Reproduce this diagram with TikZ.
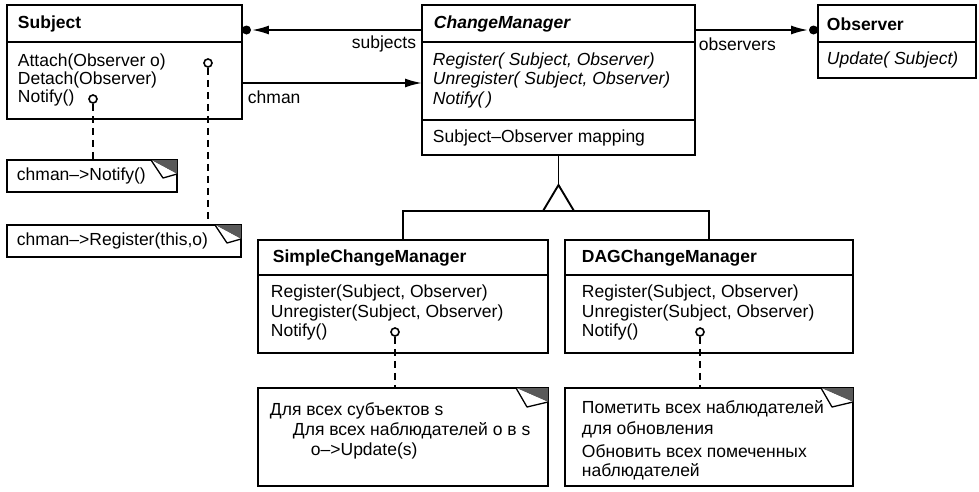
\documentclass[tikz,border=0pt]{standalone}
\usepackage{fontspec}
\setmainfont{Liberation Sans}
\usetikzlibrary{arrows.meta}
\newcommand\basefont{\fontsize{17.5}{20.5}\selectfont}
\newcommand\mydogear[5]{%
  \fill[black!65] ([xshift=-#2pt]#1.north east) -- (#1.north east) -- ([yshift=-#3pt]#1.north east) -- cycle;
  \draw[fill=white, line width=1.3pt, line join=round] ([xshift=-#2pt]#1.north east) -- ([xshift=-#4pt,yshift=-#5pt]#1.north east) -- ([yshift=-#3pt]#1.north east);
}
\begin{document}
\begin{tikzpicture}[x=1pt,y=-1pt,line width=1.9pt,
  box/.style={draw, rectangle, inner sep=0pt, outer sep=0pt, anchor=north west},
  txt/.style={anchor=west, inner sep=0pt, font=\basefont},
  hdr/.style={txt, font=\basefont\bfseries},
  ihdr/.style={txt, font=\basefont\bfseries\itshape},
  itxt/.style={txt, font=\basefont\itshape},
  opcirc/.style={circle, draw, fill=white, line width=1.6pt, inner sep=0pt, minimum size=8pt},
  assocdot/.style={circle, fill=black, inner sep=0pt, minimum size=9pt},
  dashline/.style={line width=1.9pt, dash pattern=on 7pt off 5pt},
  arr/.style={-{Latex[length=17pt,width=9pt]}},
]
\useasboundingbox (0,0) rectangle (979,491);

% ---- class boxes
\node[box, minimum width=235pt, minimum height=114pt] (subj) at (7,5) {};
\node[box, minimum width=273pt, minimum height=150pt] (cm) at (422,5) {};
\node[box, minimum width=158pt, minimum height=73pt] (obs) at (818,5) {};
\node[box, minimum width=290pt, minimum height=113pt] (simple) at (258,240) {};
\node[box, minimum width=288pt, minimum height=113pt] (dag) at (565,240) {};

% compartments
\draw (subj.west |- 0,42) -- (subj.east |- 0,42);
\draw (cm.west |- 0,42) -- (cm.east |- 0,42);
\draw (cm.west |- 0,120) -- (cm.east |- 0,120);
\draw (obs.west |- 0,42) -- (obs.east |- 0,42);
\draw (simple.west |- 0,275) -- (simple.east |- 0,275);
\draw (dag.west |- 0,275) -- (dag.east |- 0,275);

% ---- notes
\node[box, minimum width=170pt, minimum height=32pt] (n1) at (7,160) {};
\node[box, minimum width=234pt, minimum height=32pt] (n2) at (7,225) {};
\node[box, minimum width=290pt, minimum height=98pt] (n3) at (258,388) {};
\node[box, minimum width=288pt, minimum height=98pt] (n4) at (565,388) {};
\mydogear{n1}{26}{14}{14}{18}
\mydogear{n2}{26}{14}{14}{18}
\mydogear{n3}{32}{14}{21}{19}
\mydogear{n4}{32}{14}{21}{19}

% ---- texts
\node[hdr] (tSubj) at (17,24) {Subject};
\node[txt] (tAtt) at (17,62) {Attach(Observer o)};
\node[txt] (tDet) at (17,80) {Detach(Observer)};
\node[txt] (tNot) at (17,98) {Notify()};

\node[ihdr] (tCM) at (433,24) {ChangeManager};
\node[itxt] (tCM1) at (432,61) {Register( Subject, Observer)};
\node[itxt] (tCM2) at (432,80) {Unregister( Subject, Observer)};
\node[itxt] (tCM3) at (432,100) {Notify(\,)};
\node[txt] (tCM4) at (432,138) {Subject–Observer mapping};

\node[hdr] (tObs) at (826,24) {Observer};
\node[itxt] (tObs1) at (826,60) {Update( Subject)};

\node[hdr] (tS) at (272,258) {SimpleChangeManager};
\node[txt] (tS1) at (270,293) {Register(Subject, Observer)};
\node[txt] (tS2) at (270,313) {Unregister(Subject, Observer)};
\node[txt] (tS3) at (270,332) {Notify()};

\node[hdr] (tD) at (581,258) {DAGChangeManager};
\node[txt] (tD1) at (581,293) {Register(Subject, Observer)};
\node[txt] (tD2) at (581,313) {Unregister(Subject, Observer)};
\node[txt] (tD3) at (581,332) {Notify()};

\node[txt] (tn1) at (16,176) {chman–>Notify()};
\node[txt] (tn2) at (16,241) {chman–>Register(this,o)};

\node[txt] (tn31) at (269,411) {Для всех субъектов s};
\node[txt] (tn32) at (292,431) {Для всех наблюдателей o в s};
\node[txt] (tn33) at (310,451) {o–>Update(s)};

\node[txt] (tn41) at (581,409) {Пометить всех наблюдателей};
\node[txt] (tn42) at (581,430) {для обновления};
\node[txt] (tn43) at (581,451) {Обновить всех помеченных};
\node[txt] (tn44) at (581,472) {наблюдателей};

% ---- associations
\node[assocdot] (dotS) at (246.5,30) {};
\node[assocdot] (dotO) at (813.5,30) {};
\coordinate (cmS) at (422,30);
\coordinate (cmO) at (695,30);
\coordinate (chA) at (242,83);
\coordinate (chB) at (422,83);
\draw[arr] (cmS) -- (dotS.east);
\draw[arr] (cmO) -- (dotO.west);
\draw[arr] (chA) -- (chB);
\node[txt, anchor=east] (lSub) at (417,44) {subjects};
\node[txt] (lObs) at (698,44) {observers};
\node[txt] (lCh) at (247,97) {chman};

% ---- inheritance
\coordinate (apex) at (cm.south |- 0,185);
\coordinate (bar) at (cm.south |- 0,211);
\draw (cm.south) -- (apex);
\draw[line join=miter] (apex) -- ([xshift=-15.5pt,yshift=-26pt]apex) -- ([xshift=15.5pt,yshift=-26pt]apex) -- cycle;
\draw (simple.north) -- (simple.north |- bar) -- (dag.north |- bar) -- (dag.north);

% ---- operation circles and note links
\node[opcirc] (cA) at (208,63) {};
\node[opcirc] (cN) at (93,99) {};
\node[opcirc] (cS) at (395,332) {};
\node[opcirc] (cD) at (700,332) {};
\draw[dashline] (cA.south) -- (cA.south |- n2.north);
\draw[dashline] (cN.south) -- (cN.south |- n1.north);
\draw[dashline] (cS.south) -- (cS.south |- n3.north);
\draw[dashline] (cD.south) -- (cD.south |- n4.north);
\end{tikzpicture}
\end{document}
